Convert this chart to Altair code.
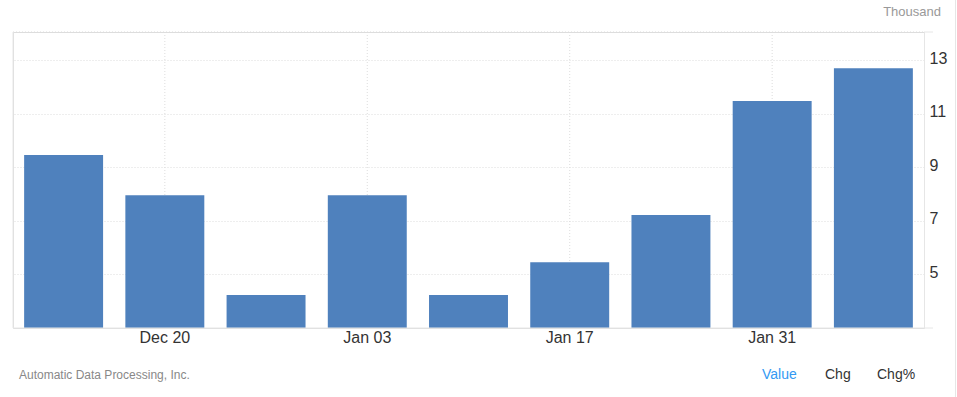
import altair as alt
import pandas as pd

# Data
weeks = ["Dec 13", "Dec 20", "Dec 27", "Jan 03", "Jan 10", "Jan 17", "Jan 24", "Jan 31", "Feb 07"]
values = [9.46, 7.96, 4.23, 7.96, 4.23, 5.46, 7.22, 11.48, 12.71]
shown_labels = ["Dec 20", "Jan 03", "Jan 17", "Jan 31"]
y_ticks = [5, 7, 9, 11, 13]
unit_text = "Thousand"
source_text = "Automatic Data Processing, Inc."
tab_texts = ["Value", "Chg", "Chg%"]

df = pd.DataFrame({"week": weeks, "value": values})
grid_df = pd.DataFrame({"week": shown_labels})

W, H = 911, 296
FONT = "Liberation Sans"

xscale = alt.Scale(domain=weeks, paddingInner=0.22, paddingOuter=0.11)
yscale = alt.Scale(domain=[3, 14.06], nice=False, zero=False)

bars = alt.Chart(df).mark_bar(color="#4f81bd").encode(
    x=alt.X("week:N", sort=weeks, scale=xscale,
            axis=alt.Axis(values=shown_labels, title=None, labelAngle=0, labelAlign="center",
                          labelBaseline="top", domain=False,
                          ticks=False, grid=False, labelFontSize=16, labelColor="#333333",
                          labelFont=FONT, labelPadding=1)),
    y=alt.Y("value:Q", scale=yscale,
            axis=alt.Axis(orient="right", values=y_ticks, title=None, domain=True,
                          domainColor="#e6e6e6", ticks=False, grid=True, gridColor="#dddddd",
                          gridDash=[1, 2], labelFontSize=16, labelColor="#333333",
                          labelFont=FONT, labelPadding=5, labelOffset=-2)),
    y2=alt.datum(3),
)

vgrid = alt.Chart(grid_df).mark_rule(color="#dddddd", strokeDash=[1, 2]).encode(
    x=alt.X("week:N", sort=weeks, scale=xscale),
    y=alt.value(0), y2=alt.value(H),
)

top_rule = alt.Chart(grid_df.head(1)).mark_rule(color="#dddddd", strokeDash=[1, 2]).encode(
    x=alt.value(0), x2=alt.value(W), y=alt.value(0))
top_tail = alt.Chart(grid_df.head(1)).mark_rule(color="#e6e6e6").encode(
    x=alt.value(W), x2=alt.value(W + 9), y=alt.value(0))
bottom_rule = alt.Chart(grid_df.head(1)).mark_rule(color="#e6e6e6").encode(
    x=alt.value(0), x2=alt.value(W + 9), y=alt.value(H))
left_rule = alt.Chart(grid_df.head(1)).mark_rule(color="#e6e6e6").encode(
    x=alt.value(0), y=alt.value(0), y2=alt.value(H))
right_border = alt.Chart(grid_df.head(1)).mark_rule(color="#e6e6e6").encode(
    x=alt.value(942.5), y=alt.value(-32), y2=alt.value(365))

unit = alt.Chart(pd.DataFrame({"t": [unit_text]})).mark_text(
    align="right", baseline="middle", fontSize=13, color="#999999", font=FONT
).encode(text="t:N", x=alt.value(928), y=alt.value(-20))

source = alt.Chart(pd.DataFrame({"t": [source_text]})).mark_text(
    align="left", baseline="middle", fontSize=12, color="#888888", font=FONT
).encode(text="t:N", x=alt.value(6), y=alt.value(343))

tab_x = [749, 812, 864]
tab_colors = ["#3399f3", "#333333", "#333333"]
tabs = [
    alt.Chart(pd.DataFrame({"t": [t]})).mark_text(
        align="left", baseline="middle", fontSize=14, color=c, font=FONT
    ).encode(text="t:N", x=alt.value(xx), y=alt.value(343))
    for t, xx, c in zip(tab_texts, tab_x, tab_colors)
]

chart = alt.layer(vgrid, top_rule, top_tail, left_rule, bars, bottom_rule, right_border,
                  unit, source, *tabs).properties(
    width=W, height=H,
    autosize=alt.AutoSizeParams(type="none"),
    padding={"left": 13, "top": 32, "right": 33, "bottom": 69},
).configure_view(stroke=None).configure(background="white")

chart.save("out.html", embed_options={"renderer": "svg", "actions": False})
